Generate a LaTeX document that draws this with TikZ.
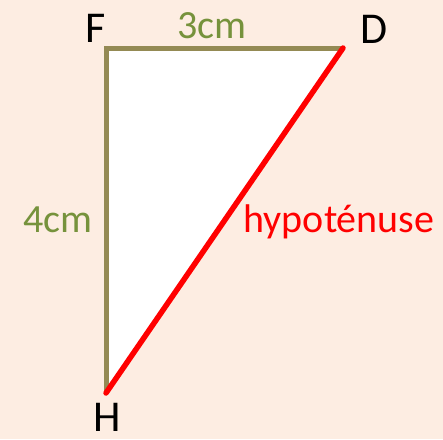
\documentclass[tikz,border=0pt]{standalone}
\usepackage{fontspec}
\setmainfont{Carlito}
\usepackage{tikz}
\usetikzlibrary{positioning}
\definecolor{pagebg}{HTML}{FDEDE2}
\definecolor{sideline}{HTML}{948A54}
\definecolor{sidetext}{HTML}{76923C}
\definecolor{hypred}{HTML}{FF0000}
\tikzstyle{vertex} = [font=\fontsize{44}{44}\selectfont, text=black,
  inner sep=0pt, anchor=base]
\tikzstyle{sidelabel} = [font=\fontsize{40}{40}\selectfont, text=sidetext,
  inner sep=0pt, anchor=base]
\tikzstyle{leg} = [draw=sideline, line width=5pt]
\tikzstyle{hyp} = [draw=hypred, line width=5.5pt, line cap=round]

\begin{document}
\begin{tikzpicture}[x=1pt, y=-1pt]

  % background
  \fill[pagebg] (0,0) rectangle (443,439);
  \useasboundingbox (0,0) rectangle (443,439);

  \coordinate (F) at (106,48);
  \coordinate (D) at (343,48);
  \coordinate (H) at (106,393);

  \fill[white] (F) -- (D) -- (H) -- cycle;

  % sides
  \draw[leg] (D) -- (F) -- (H);
  \draw[hyp] (D) -- (H);

  % labels
  \node[vertex] (lF) at (96,42) {F};
  \node[vertex] (lD) at (374,43) {D};
  \node[vertex] (lH) at (107,431) {H};
  \node[sidelabel] (l3) at (212,38) {3cm};
  \node[sidelabel] (l4) at (58,232) {4cm};
  \node[sidelabel, text=hypred] (lhyp) at (339,232) {hypoténuse};

\end{tikzpicture}
\end{document}
